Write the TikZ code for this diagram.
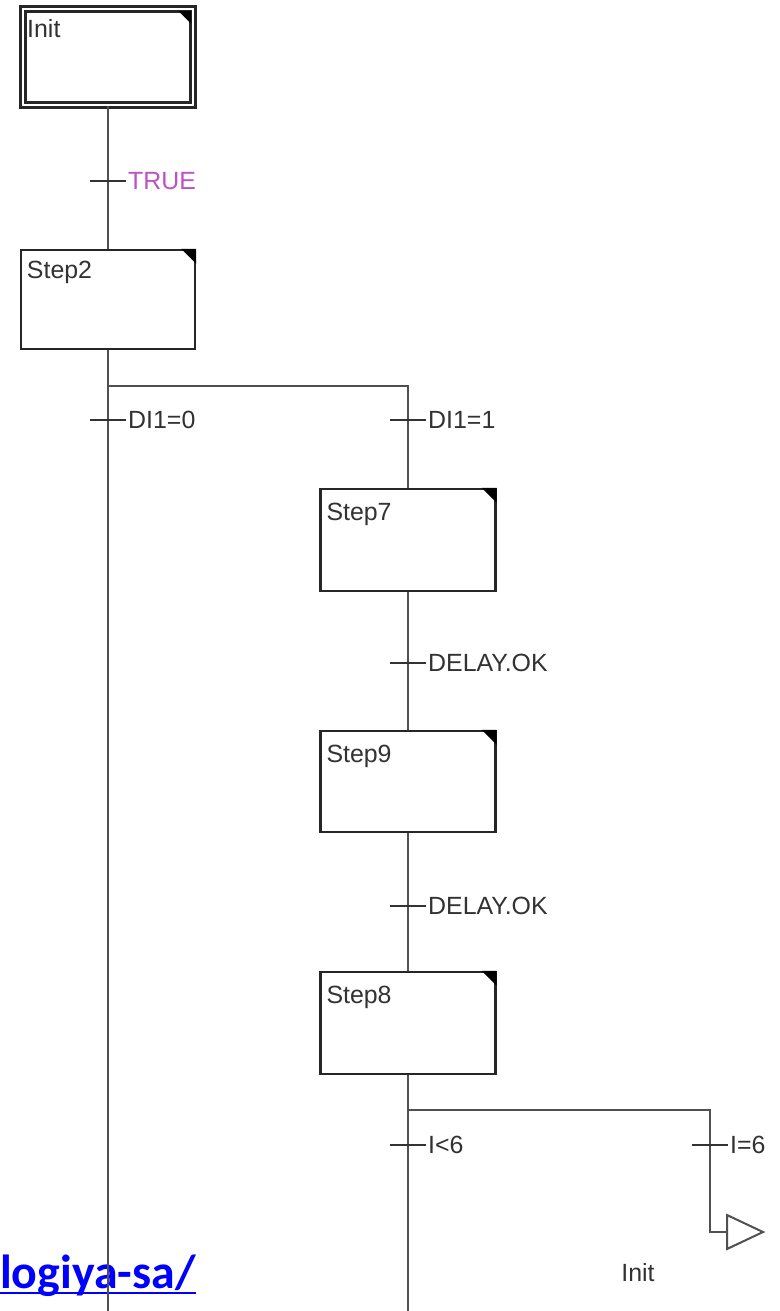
\documentclass[tikz,border=0pt]{standalone}
\usepackage{fontspec}
\setmainfont{Liberation Sans}
\newfontfamily\carlitofont{Carlito}
\usetikzlibrary{calc}
\definecolor{linegray}{RGB}{80,80,80}
\definecolor{txtgray}{RGB}{50,50,50}
\definecolor{truecol}{RGB}{190,80,200}
\definecolor{linkblue}{RGB}{0,0,255}
\begin{document}
\begin{tikzpicture}[x=1bp,y=-1bp,
  wire/.style={draw=linegray, line width=2.6bp},
  stepbox/.style={draw=black!85, line width=2.4bp, fill=white, minimum width=175bp, minimum height=101bp, inner sep=0pt},
  initbox/.style={draw=black!85, double=white, double distance=2.8bp, line width=2.4bp, fill=white, minimum width=170bp, minimum height=96bp, inner sep=0pt},
  steptext/.style={anchor=base west, inner sep=0pt, text=txtgray, font=\fontsize{25}{30}\selectfont},
  trlabel/.style={anchor=west, inner sep=0pt, text=txtgray, font=\fontsize{25}{30}\selectfont},
  corner/.style={fill=black}
]
\useasboundingbox (0,0) rectangle (779,1311);

% link text (behind wires)
\node[anchor=base west, inner sep=0pt, text=linkblue, font=\carlitofont\bfseries\fontsize{48}{50}\selectfont] (link) at (0,1288) {logiya-sa/};
\draw[linkblue, line width=2.8bp] ($(link.base west)+(0,5)$) -- ($(link.base east)+(0,5)$);

% coordinates
\coordinate (endL) at (108,1311);
\coordinate (endM) at (408,1311);
\coordinate (b1) at (108,386);
\coordinate (b1r) at (408,386);
\coordinate (b2) at (408,1110);
\coordinate (b2r) at (710,1110);
\coordinate (jcorner) at (710,1232);
\coordinate (jin) at (727,1232);
\coordinate (jtop) at (727,1215);
\coordinate (jbot) at (727,1249);
\coordinate (jtip) at (763,1232);

\coordinate (tT) at (108,181);
\coordinate (tA) at (108,420);
\coordinate (tB) at (408,420);
\coordinate (tC) at (408,663);
\coordinate (tD) at (408,906);
\coordinate (tE) at (408,1145);
\coordinate (tF) at (710,1145);

% steps
\node[initbox] (init) at (108,57) {};
\node[stepbox, minimum width=174bp, minimum height=99bp] (s2) at (108,299.5) {};
\node[stepbox, minimum height=102bp] (s7) at (408,540) {};
\node[stepbox] (s9) at (408,781.5) {};
\node[stepbox, minimum height=102bp] (s8) at (408,1023) {};

% wires
\draw[wire] (init.south) -- (s2.north);
\draw[wire] (s2.south) -- (endL);
\draw[wire] (b1) -- (b1r) -- (s7.north);
\draw[wire] (s7.south) -- (s9.north);
\draw[wire] (s9.south) -- (s8.north);
\draw[wire] (s8.south) -- (endM);
\draw[wire] (b2) -- (b2r) -- (jcorner) -- (jin);
\draw[draw=linegray, line width=2bp, line join=miter] (jtop) -- (jtip) -- (jbot) -- cycle;

% transition ticks and labels
\foreach \t in {tT,tA,tB,tC,tD,tE,tF}{
  \draw[draw=black!80, line width=2bp] ($(\t)+(-18,0)$) -- ($(\t)+(18,0)$);
}
\node[trlabel, text=truecol] (lT) at ($(tT)+(20,0)$) {TRUE};
\node[trlabel] (lA) at ($(tA)+(20,0)$) {DI1=0};
\node[trlabel] (lB) at ($(tB)+(20,0)$) {DI1=1};
\node[trlabel] (lC) at ($(tC)+(20,0)$) {DELAY.OK};
\node[trlabel] (lD) at ($(tD)+(20,0)$) {DELAY.OK};
\node[trlabel] (lE) at ($(tE)+(20,0)$) {I<6};
\node[trlabel] (lF) at ($(tF)+(20,0)$) {I=6};

% step names
\node[steptext] (initt) at (27,38) {Init};
\node[steptext] (s2t) at ($(s2.north west)+(7,30)$) {Step2};
\node[steptext] (s7t) at ($(s7.north west)+(7,33)$) {Step7};
\node[steptext] (s9t) at ($(s9.north west)+(7,33)$) {Step9};
\node[steptext] (s8t) at ($(s8.north west)+(7,33)$) {Step8};

% corner marks
\fill[corner] ($(init.north east)+(-3,3)$) -- ++(-13,0) -- ++(13,13) -- cycle;
\foreach \s in {s2,s7,s9,s8}{
  \fill[corner] (\s.north east) -- ++(-15,0) -- ++(15,15) -- cycle;
}

% jump target label
\node[inner sep=0pt, text=txtgray, font=\fontsize{25}{30}\selectfont] (jt) at (638,1273) {Init};
\end{tikzpicture}
\end{document}
